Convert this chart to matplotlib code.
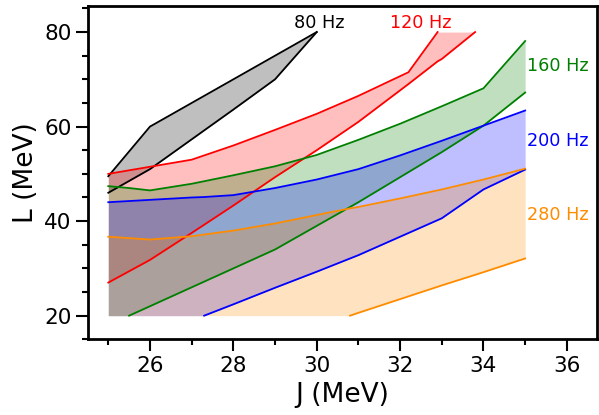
import numpy as np
import matplotlib
matplotlib.use('Agg')
import matplotlib.pyplot as plt
from matplotlib.ticker import MultipleLocator

# 80 Hz band
j80 = [25, 26, 27, 28, 29, 30]
hi80 = [49.5, 60, 65, 70, 75, 80]
lo80 = [46, 51, 57.3, 63.6, 70, 80]

# 120 Hz band
j120 = [25, 26, 27, 28, 29, 30, 31, 32.2, 32.9, 33, 33.8]
hi120 = [50, 51.5, 53, 56, 59.3, 62.7, 66.5, 71.5, 80, 80, 80]
lo120 = [27, 31.8, 37.5, 43.3, 49.3, 55, 61, 69, 73.8, 74.3, 80]

# 160 Hz band
j160 = [25, 25.5, 26, 27, 28, 29, 30, 31, 32, 33, 34, 35]
hi160 = [47.4, 47, 46.5, 47.9, 49.7, 51.6, 54, 57.2, 60.6, 64.3, 68.1, 78.1]
lo160 = [20, 20, 22, 26, 30, 34, 39, 44, 49.3, 54.6, 60.2, 67.2]

# 200 Hz band
j200 = [25, 26, 27, 27.3, 28, 29, 30, 31, 32, 33, 34, 35]
hi200 = [44, 44.5, 45, 45.1, 45.5, 47, 48.8, 51, 53.9, 57, 60.2, 63.4]
lo200 = [20, 20, 20, 20, 22.4, 25.9, 29.3, 32.8, 36.7, 40.6, 46.7, 50.9]

# 280 Hz band
j280 = [25, 26, 27, 28, 29, 30, 30.8, 31, 32, 33, 34, 35]
hi280 = [36.7, 36.1, 36.8, 38, 39.5, 41.3, 42.7, 43, 44.8, 46.7, 48.8, 51.1]
lo280 = [20, 20, 20, 20, 20, 20, 20, 20.6, 23.5, 26.4, 29.2, 32.1]

bands = [
    (j80, hi80, lo80, 'black', '80 Hz', 30.05, 82.0, 'center'),
    (j120, hi120, lo120, 'red', '120 Hz', 32.5, 82.0, 'center'),
    (j160, hi160, lo160, 'green', '160 Hz', 35.05, 72.8, 'left'),
    (j200, hi200, lo200, 'blue', '200 Hz', 35.05, 57.0, 'left'),
    (j280, hi280, lo280, 'darkorange', '280 Hz', 35.05, 41.3, 'left'),
]

fig = plt.figure(figsize=(5.99, 4.15), dpi=100)
ax = fig.add_axes([0.1474, 0.1824, 0.849, 0.803])

for j, hi, lo, c, lab, tx, ty, ha in bands:
    j = np.array(j)
    hi = np.array(hi)
    lo = np.array(lo)
    ax.fill_between(j, lo, hi, color=c, alpha=0.25, linewidth=0)
    # draw the edges only where they are inside the window
    m = hi < 80
    idx = np.where(m)[0]
    end = idx[-1] + 2 if idx[-1] + 1 < len(j) else idx[-1] + 1
    ax.plot(j[:end], hi[:end], color=c, lw=1.3)
    m = lo > 20
    start = max(np.where(m)[0][0] - 1, 0)
    ax.plot(j[start:], lo[start:], color=c, lw=1.3)
    ax.text(tx, ty, lab, color=c, fontsize=12.7, ha=ha, va='center')

ax.set_xlim(24.52, 36.72)
ax.set_ylim(15, 85.5)
ax.xaxis.set_major_locator(MultipleLocator(2))
ax.xaxis.set_minor_locator(MultipleLocator(1))
ax.yaxis.set_major_locator(MultipleLocator(20))
ax.yaxis.set_minor_locator(MultipleLocator(5))
ax.tick_params(which='major', length=8.5, width=1.5, labelsize=15.5)
ax.tick_params(which='minor', length=4.5, width=1.5)
for s in ax.spines.values():
    s.set_linewidth(2)
ax.set_xlabel('J (MeV)', fontsize=19)
ax.set_ylabel('L (MeV)', fontsize=19)

fig.savefig('out.png', dpi=100)
